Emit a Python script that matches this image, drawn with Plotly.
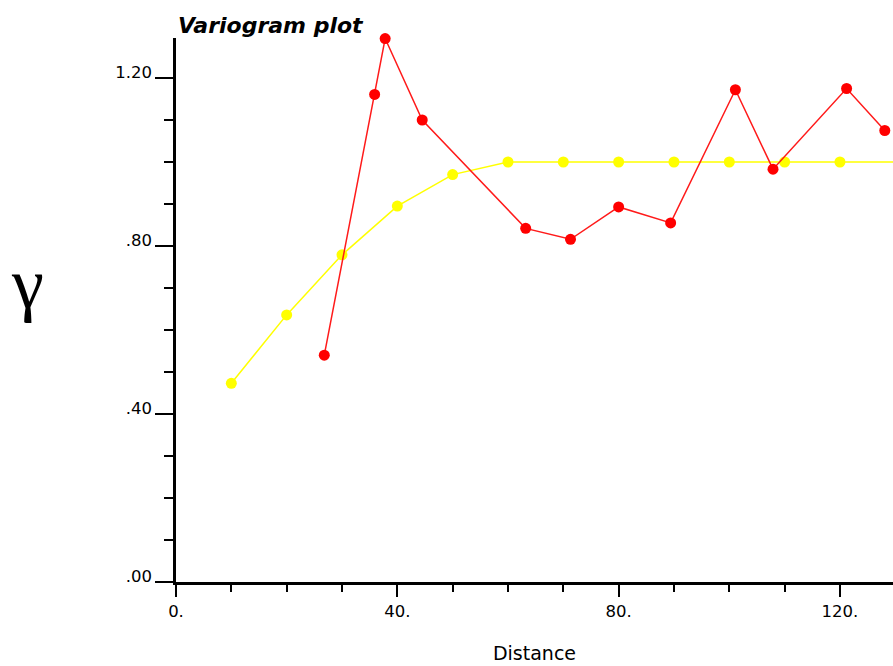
import plotly.graph_objects as go

# Model variogram (yellow)
model_dist = [10, 20, 30, 40, 50, 60, 70, 80, 90, 100, 110, 120, 130]
model_gamma = [0.473, 0.636, 0.779, 0.895, 0.970, 1.0, 1.0, 1.0, 1.0, 1.0, 1.0, 1.0, 1.0]

# Experimental variogram (red)
exp_dist = [26.8, 35.9, 37.8, 44.5, 63.2, 71.3, 80.0, 89.4, 101.1, 107.9, 121.2, 128.1]
exp_gamma = [0.540, 1.161, 1.294, 1.100, 0.842, 0.816, 0.893, 0.855, 1.172, 0.983, 1.175, 1.075]

x_tickvals = [0, 40, 80, 120]
x_ticktext = ["0.", "40.", "80.", "120."]
y_tickvals = [0, 0.4, 0.8, 1.2]
y_ticktext = [".00", ".40", ".80", "1.20"]

W, H = 893, 666
L, T, B = 176, 38, 84
px_per_x = 5.533
px_per_y = 420.0
xmax = (W - L) / px_per_x
ymax = (H - T - B) / px_per_y

fig = go.Figure()
fig.add_trace(go.Scatter(
    x=model_dist, y=model_gamma, mode="lines+markers",
    line=dict(color="#ffff00", width=1.5),
    marker=dict(color="#ffff00", size=11),
    cliponaxis=False, showlegend=False))
fig.add_trace(go.Scatter(
    x=exp_dist, y=exp_gamma, mode="lines+markers",
    line=dict(color="#ff1a1a", width=1.5),
    marker=dict(color="#ff0000", size=11),
    cliponaxis=False, showlegend=False))

tickfont = dict(family="DejaVu Sans", size=16.5, color="black")

fig.update_layout(
    width=W, height=H,
    margin=dict(l=L, r=0, t=T, b=B, pad=0),
    paper_bgcolor="white", plot_bgcolor="white",
    xaxis=dict(
        range=[0, xmax], showgrid=False, zeroline=False,
        showline=True, linecolor="black", linewidth=2.5,
        tickmode="array", tickvals=x_tickvals, ticktext=x_ticktext,
        ticks="outside", ticklen=12, tickwidth=2, tickcolor="black",
        tickfont=tickfont,
        minor=dict(tickmode="linear", tick0=0, dtick=10, ticks="outside",
                   ticklen=7, tickwidth=2, tickcolor="black", showgrid=False),
        title=dict(text="Distance", font=dict(family="DejaVu Sans", size=19, color="black"),
                   standoff=28),
    ),
    yaxis=dict(
        range=[0, ymax], showgrid=False, zeroline=False,
        showline=True, linecolor="black", linewidth=2.5,
        tickmode="array", tickvals=y_tickvals, ticktext=y_ticktext,
        ticks="outside", ticklen=18, tickwidth=2, tickcolor="black",
        tickfont=tickfont, ticklabelshift=-6,
        minor=dict(tickmode="linear", tick0=0, dtick=0.1, ticks="outside",
                   ticklen=9, tickwidth=2, tickcolor="black", showgrid=False),
    ),
    annotations=[
        dict(text="<b><i>Variogram plot</i></b>", xref="paper", yref="paper",
             x=0.0, y=1, xanchor="left", yanchor="bottom", yshift=-2,
             showarrow=False, font=dict(family="DejaVu Sans", size=22, color="black")),
        dict(text="γ", xref="paper", yref="paper",
             x=(27 - L) / (W - L), y=(H - B - 284) / (H - T - B),
             xanchor="center", yanchor="middle",
             showarrow=False, font=dict(family="Liberation Serif", size=72, color="black")),
    ],
)

fig.write_html(
    "out.html",
    config={"displayModeBar": False},
    post_script="document.body.style.margin='0';document.body.style.overflow='hidden';",
)
